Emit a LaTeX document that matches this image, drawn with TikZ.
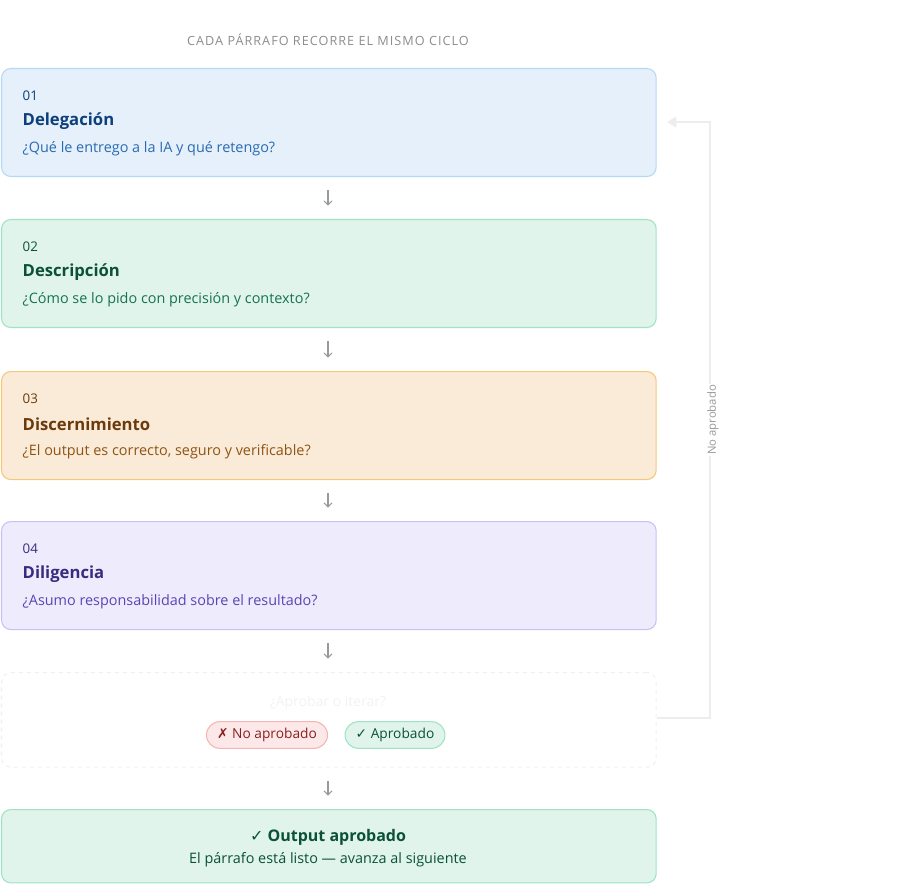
\documentclass[tikz,border=0pt]{standalone}
\usepackage{fontspec}
\setmainfont{Open Sans}
\newfontfamily\symfont{DejaVu Sans}
\usetikzlibrary{arrows.meta,positioning}
\definecolor{bgA}{HTML}{E5F0FB}\definecolor{lnA}{HTML}{B5D8F5}\definecolor{txA}{HTML}{0D3F7A}\definecolor{sbA}{HTML}{2A6BB0}
\definecolor{bgB}{HTML}{E0F4EC}\definecolor{lnB}{HTML}{9EE3C6}\definecolor{txB}{HTML}{0B5138}\definecolor{sbB}{HTML}{17734F}
\definecolor{bgC}{HTML}{FAEBD8}\definecolor{lnC}{HTML}{F5C778}\definecolor{txC}{HTML}{6B3A0B}\definecolor{sbC}{HTML}{8F5414}
\definecolor{bgD}{HTML}{EEEBFC}\definecolor{lnD}{HTML}{C9C1F3}\definecolor{txD}{HTML}{3A2B7F}\definecolor{sbD}{HTML}{5B45B5}
\definecolor{bgN}{HTML}{FCE8E8}\definecolor{lnN}{HTML}{F5B5B5}\definecolor{txN}{HTML}{8B2020}
\tikzstyle{stage box} = [draw, rounded corners=7pt, line width=0.8pt, minimum width=491pt, minimum height=81pt, anchor=north west]
\tikzstyle{pill} = [draw, rounded corners=10pt, line width=0.8pt, minimum height=20pt, inner xsep=8pt, font=\fontsize{10.3}{12}\selectfont]
\tikzstyle{down} = [draw=gray!80, line width=0.8pt, -{Straight Barb[length=3pt]}]
\tikzstyle{back} = [draw=black!7, line width=1.2pt, -{Triangle[length=7pt,width=8pt]}]
\begin{document}
\begin{tikzpicture}[x=0.75pt, y=-0.75pt]
	\useasboundingbox (0,0) rectangle (921,884);
	% heading
	\node (head) at (328,40) {\fontsize{9.5}{12}\selectfont\addfontfeature{LetterSpace=8}\color{black!45}CADA PÁRRAFO RECORRE EL MISMO CICLO};
	
	% the four steps
	\foreach \y/\name/\c/\num/\ttl/\sub in {
		68/s1/A/01/Delegación/¿Qué le entrego a la IA y qué retengo?,
		219/s2/B/02/Descripción/¿Cómo se lo pido con precisión y contexto?,
		371/s3/C/03/Discernimiento/¿El output es correcto{,} seguro y verificable?,
		521/s4/D/04/Diligencia/¿Asumo responsabilidad sobre el resultado?}
	{
		\node[stage box, fill=bg\c, draw=ln\c] (\name) at (1,\y) {};
		\node[anchor=west, text=tx\c, font=\fontsize{10}{12}\selectfont] at (18,\y+28) {\num};
		\node[anchor=west, text=tx\c, font=\fontsize{12.5}{15}\selectfont\bfseries] at (18,\y+53) {\ttl};
		\node[anchor=west, text=sb\c, font=\fontsize{10.8}{13}\selectfont] at (18,\y+81) {\sub};
	}
	
	% decision
	\node[stage box, draw=black!6, dashed, minimum height=71pt] (dec) at (1,672) {};
	\node[text=black!5, font=\fontsize{10.5}{13}\selectfont] (ask) at (328,703) {¿Aprobar o iterar?};
	\node[pill, fill=bgN, draw=lnN, text=txN] (no) at (267,735) {{\symfont\char"2717} No aprobado};
	\node[pill, fill=bgB, draw=lnB, text=txB] (yes) at (395,735) {{\symfont\char"2713} Aprobado};
	
	% result
	\node[stage box, fill=bgB, draw=lnB, minimum height=55pt] (out) at (1,809) {};
	\node[text=txB, font=\fontsize{12}{14}\selectfont\bfseries] at (328,837) {{\symfont\mdseries\char"2713} Output aprobado};
	\node[text=txB, font=\fontsize{10.8}{13}\selectfont] at (328,860) {El párrafo está listo — avanza al siguiente};
	
	% connectors
	\foreach \a/\b in {s1/s2, s2/s3, s3/s4, s4/dec, dec/out}
		\path[down] ([yshift=-10pt]\a.south -| 328,0) -- ([yshift=10pt]\b.north -| 328,0);
	
	\coordinate (c1) at (710,718);
	\coordinate (c2) at (710,122);
	\path[back] (dec.east |- c1) -- (c1) -- (c2) -- (667,122);
	\node[fill=white, rotate=90, text=black!40, font=\fontsize{8.5}{11}\selectfont, inner sep=1pt] (lbl) at (713,420) {No aprobado};
\end{tikzpicture}
\end{document}
